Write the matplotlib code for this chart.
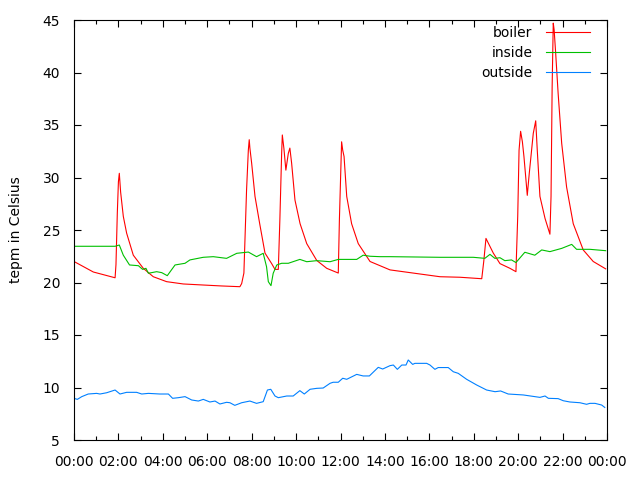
import matplotlib
matplotlib.use("Agg")
import matplotlib.pyplot as plt
from matplotlib.ticker import MultipleLocator, FuncFormatter

# boiler temperature (hour of day, degrees)
boiler_h = [0.0, 0.87, 1.85, 1.89, 1.95, 2.0, 2.04, 2.10, 2.22, 2.37, 2.67, 3.12,
            3.57, 4.17, 4.92, 5.82, 6.65, 7.47, 7.55, 7.65, 7.77, 7.85, 7.89, 7.92,
            8.0, 8.15, 8.37, 8.6, 8.9, 9.05, 9.2, 9.27, 9.35, 9.38, 9.45, 9.54,
            9.65, 9.72, 9.8, 9.95, 10.18, 10.48, 10.93, 11.38, 11.9, 11.95, 12.05,
            12.1, 12.16, 12.28, 12.5, 12.8, 13.33, 14.23, 16.48, 17.38, 18.36,
            18.45, 18.55, 18.88, 19.18, 19.63, 19.9, 19.98, 20.04, 20.11, 20.19,
            20.26, 20.35, 20.41, 20.5, 20.68, 20.79, 20.86, 20.98, 21.21, 21.43,
            21.48, 21.53, 21.58, 21.62, 21.69, 21.8, 21.96, 22.18, 22.48, 22.93,
            23.38, 23.94]
boiler_t = [22.0, 21.0, 20.45, 21.7, 26.6, 29.6, 30.4, 28.6, 26.3, 24.7, 22.6, 21.35,
            20.55, 20.08, 19.86, 19.76, 19.67, 19.6, 19.9, 20.9, 28.8, 32.6, 33.6, 32.8,
            31.35, 28.2, 25.5, 22.8, 21.8, 21.25, 21.25, 26.0, 32.3, 34.05, 32.8, 30.7,
            32.3, 32.8, 31.35, 27.85, 25.6, 23.7, 22.1, 21.35, 20.9, 25.95, 33.4,
            32.6, 32.0, 28.2, 25.6, 23.7, 22.0, 21.2, 20.55, 20.5, 20.36,
            22.0, 24.2, 22.8, 21.8, 21.35, 21.03, 26.3, 32.6, 34.4, 33.4,
            32.0, 29.8, 28.3, 30.4, 34.2, 35.4, 32.6, 28.2, 26.1, 24.6,
            28.2, 38.65, 44.7, 44.05, 41.8, 38.0, 33.25, 29.1, 25.6, 23.1,
            22.0, 21.3]

# inside temperature
inside_h = [0.0, 1.85, 2.04, 2.22, 2.5, 2.9, 3.09, 3.24, 3.35, 3.72, 3.95, 4.2,
            4.55, 5.0, 5.22, 5.82, 6.27, 6.87, 7.33, 7.85, 8.22, 8.52, 8.67, 8.75,
            8.87, 8.97, 9.13, 9.35, 9.65, 10.17, 10.48, 10.93, 11.53, 11.9, 12.73,
            13.02, 13.33, 13.78, 14.23, 16.48, 17.98, 18.5, 18.73, 18.95, 19.18,
            19.4, 19.7, 19.9, 20.3, 20.75, 21.06, 21.43, 21.96, 22.41, 22.63,
            23.23, 23.94]
inside_t = [23.45, 23.45, 23.57, 22.6, 21.67, 21.6, 21.25, 21.35, 20.88, 21.03, 20.94, 20.65,
            21.67, 21.83, 22.15, 22.4, 22.46, 22.3, 22.78, 22.9, 22.46, 22.78, 21.5, 20.08,
            19.7, 20.88, 21.67, 21.83, 21.83, 22.2, 21.98, 22.08, 21.98, 22.2, 22.2,
            22.6, 22.5, 22.46, 22.46, 22.4, 22.4, 22.3, 22.68, 22.3, 22.36,
            22.08, 22.15, 21.9, 22.88, 22.6, 23.1, 22.94, 23.25, 23.63, 23.16,
            23.16, 23.03]

# outside temperature
outside_h = [0.0, 0.15, 0.35, 0.64, 1.02, 1.17, 1.47, 1.85, 2.07, 2.37, 2.82, 3.05,
             3.35, 3.87, 4.25, 4.44, 4.7, 5.0, 5.3, 5.6, 5.82, 6.12, 6.35, 6.57,
             6.87, 7.02, 7.24, 7.55, 7.92, 8.22, 8.52, 8.71, 8.86, 9.05, 9.2, 9.58,
             9.87, 10.17, 10.37, 10.63, 10.93, 11.22, 11.53, 11.67, 11.9, 12.1,
             12.28, 12.73, 13.02, 13.3, 13.7, 13.9, 14.23, 14.38, 14.56, 14.76,
             14.95, 15.05, 15.25, 15.35, 15.88, 16.03, 16.25, 16.4, 16.85, 17.08,
             17.3, 17.68, 18.13, 18.58, 18.96, 19.21, 19.55, 20.23, 20.98, 21.21,
             21.36, 21.8, 22.03, 22.33, 22.78, 23.08, 23.23, 23.46, 23.76, 23.9]
outside_t = [8.97, 8.87, 9.13, 9.38, 9.44, 9.38, 9.5, 9.76, 9.38, 9.54, 9.54, 9.38,
             9.44, 9.38, 9.38, 8.97, 9.03, 9.13, 8.81, 8.71, 8.87, 8.62, 8.71, 8.43,
             8.59, 8.55, 8.3, 8.55, 8.71, 8.49, 8.65, 9.76, 9.83, 9.19, 9.03, 9.19,
             9.19, 9.7, 9.38, 9.83, 9.92, 9.95, 10.4, 10.5, 10.5, 10.88,
             10.78, 11.25, 11.1, 11.1, 11.92, 11.76, 12.08, 12.14, 11.73, 12.14,
             12.14, 12.62, 12.2, 12.3, 12.3, 12.14, 11.73, 11.9, 11.9, 11.5,
             11.35, 10.78, 10.24, 9.76, 9.6, 9.67, 9.38, 9.29, 9.06, 9.19,
             8.97, 8.94, 8.74, 8.62, 8.55, 8.4, 8.49, 8.49, 8.33, 8.1]

plt.rcParams['font.family'] = ['DejaVu Sans']
fig = plt.figure(figsize=(6.4, 4.8), dpi=100)
ax = fig.add_axes([74 / 640, 1 - 440 / 480, 533 / 640, 420 / 480])

ax.plot(boiler_h, boiler_t, color='#ff0000', lw=0.8, label='boiler')
ax.plot(inside_h, inside_t, color='#00c000', lw=0.8, label='inside')
ax.plot(outside_h, outside_t, color='#0080ff', lw=0.8, label='outside')

ax.set_xlim(0, 24)
ax.set_ylim(5, 45)
ax.xaxis.set_major_locator(MultipleLocator(2))
ax.xaxis.set_minor_locator(MultipleLocator(1))
ax.yaxis.set_major_locator(MultipleLocator(5))
ax.xaxis.set_major_formatter(FuncFormatter(lambda v, p: "%02d:00" % (int(round(v)) % 24)))
ax.tick_params(which='both', direction='in', top=True, right=True, labelsize=10, width=0.8)
ax.tick_params(which='major', length=5)
ax.tick_params(which='minor', length=3)
ax.tick_params(axis='x', which='major', pad=11)
ax.tick_params(axis='y', which='major', pad=10)
for s in ax.spines.values():
    s.set_linewidth(0.8)

ax.set_ylabel('tepm in Celsius', fontsize=10, labelpad=14)

leg = ax.legend(loc='upper right', bbox_to_anchor=(0.979, 1.0), frameon=False,
                markerfirst=False, fontsize=10, handlelength=3.2, borderaxespad=0,
                labelspacing=0.45, handletextpad=0.95)
for t in leg.get_texts():
    t.set_ha('right')

fig.savefig('out.png', dpi=100)
